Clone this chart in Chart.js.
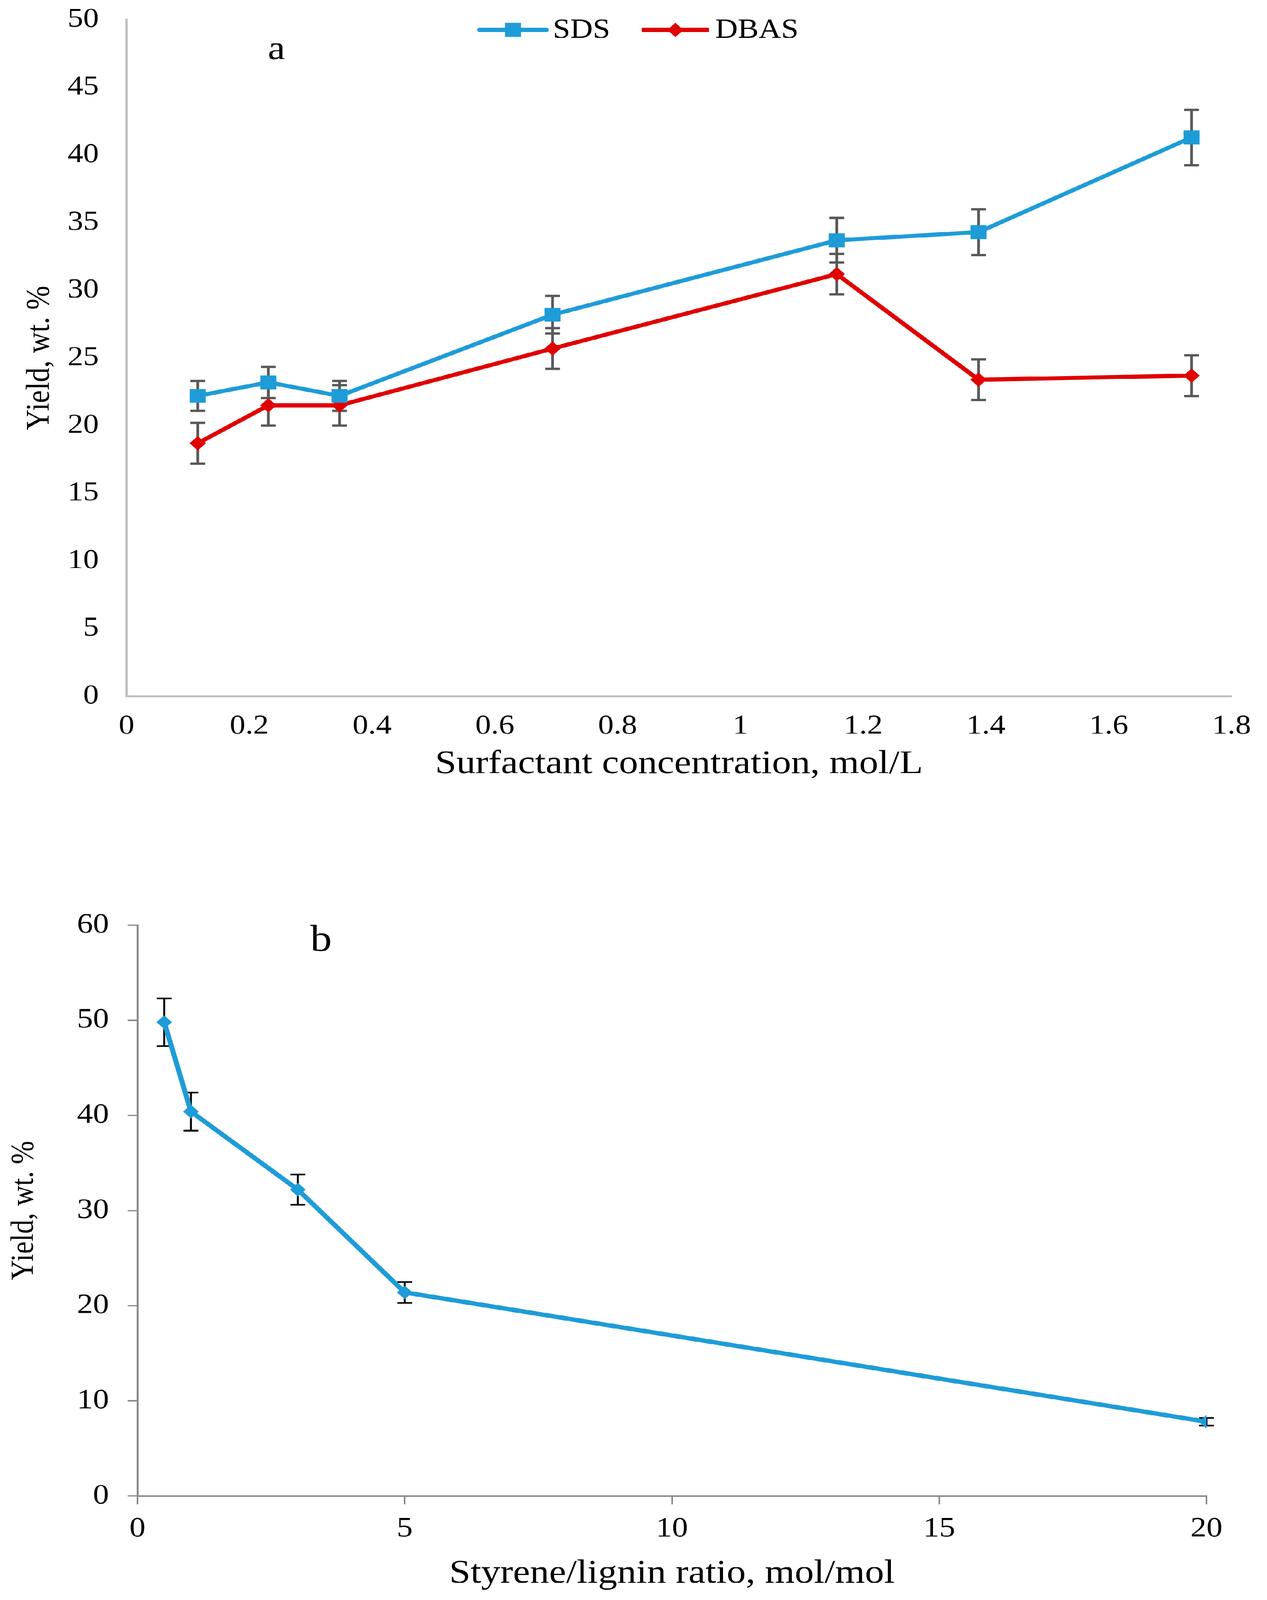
<!DOCTYPE html>
<html>
<head>
<meta charset="utf-8">
<script src="https://cdn.jsdelivr.net/npm/chart.js@4.4.1/dist/chart.umd.min.js"></script>
<style>
  html, body { margin: 0; padding: 0; background: #fff; overflow: hidden; }
  #wrap { position: relative; width: 3244px; height: 4706px; transform-origin: 0 0; }
  canvas { position: absolute; left: 0; }
  #chart-a { top: 0; }
  #chart-b { top: 2400px; }
</style>
</head>
<body>
<div id="wrap">
  <canvas id="chart-a" width="3244" height="2400"></canvas>
  <canvas id="chart-b" width="3244" height="2306"></canvas>
</div>
<script>
// --- Data (panel a) ---
const concentration = [0.116, 0.231, 0.347, 0.694, 1.157, 1.388, 1.735];
const sdsYield = [22.2, 23.2, 22.2, 28.2, 33.7, 34.3, 41.3];
const sdsError = [1.1, 1.15, 1.1, 1.4, 1.65, 1.7, 2.05];
const dbasYield = [18.7, 21.5, 21.5, 25.7, 31.2, 23.4, 23.7];
const dbasError = [1.5, 1.5, 1.5, 1.5, 1.5, 1.5, 1.5];
const concTicks = [0, 0.2, 0.4, 0.6, 0.8, 1, 1.2, 1.4, 1.6, 1.8];
const yieldTicksA = [0, 5, 10, 15, 20, 25, 30, 35, 40, 45, 50];

// --- Data (panel b) ---
const ratio = [0.5, 1, 3, 5, 20];
const ratioYield = [49.8, 40.4, 32.2, 21.4, 7.8];
const ratioError = [2.5, 2.0, 1.6, 1.1, 0.4];
const ratioTicks = [0, 5, 10, 15, 20];
const yieldTicksB = [0, 10, 20, 30, 40, 50, 60];

const FONT = '"Liberation Serif", "Times New Roman", serif';
const BLUE = '#1E9CD8';
const RED = '#E00000';

// the window can come up shorter than the figure; squeeze it to fit
const FIG_H = 4706;
const fitY = Math.min(1, window.innerHeight / FIG_H);
if (fitY < 1) document.getElementById('wrap').style.transform = `scaleY(${fitY})`;

Chart.defaults.font.family = FONT;
Chart.defaults.color = '#000';

const toPoints = (xs, ys) => xs.map((x, i) => ({ x, y: ys[i] }));
const fixedTicks = (values) => (scale) => { scale.ticks = values.map(v => ({ value: v })); };
// fixed axis width, and no extra label padding pushing the plot area in
const fixedWidth = (w) => (s) => { s.width = w; s.paddingTop = 0; s.paddingBottom = 0; };

// --- Plugins ---
const errorBarPlugin = {
    id: 'errorBars',
    beforeDatasetsDraw(chart, args, opts) {
        const { ctx, scales: { x, y } } = chart;
        ctx.save();
        ctx.strokeStyle = opts.color;
        ctx.lineWidth = opts.width;
        ctx.lineCap = 'butt';
        chart.data.datasets.forEach(ds => {
            if (!ds.errors) return;
            ds.data.forEach((pt, j) => {
                const px = x.getPixelForValue(pt.x);
                const top = y.getPixelForValue(pt.y + ds.errors[j]);
                const bot = y.getPixelForValue(pt.y - ds.errors[j]);
                ctx.beginPath();
                ctx.moveTo(px, top); ctx.lineTo(px, bot);
                ctx.moveTo(px - opts.cap, top); ctx.lineTo(px + opts.cap, top);
                ctx.moveTo(px - opts.cap, bot); ctx.lineTo(px + opts.cap, bot);
                ctx.stroke();
            });
        });
        ctx.restore();
    }
};

const seriesLegendPlugin = {
    id: 'seriesLegend',
    afterDraw(chart, args, opts) {
        if (!opts.display) return;
        const { ctx } = chart;
        ctx.save();
        ctx.font = `${opts.fontSize}px ${FONT}`;
        ctx.textBaseline = 'middle';
        const items = chart.data.datasets.map(ds => ({
            ds, w: opts.lineLength + opts.gap + ctx.measureText(ds.label).width
        }));
        const total = items.reduce((s, it) => s + it.w, 0) + opts.itemGap * (items.length - 1);
        let x = opts.centerX - total / 2;
        items.forEach(({ ds, w }) => {
            ctx.strokeStyle = ds.borderColor;
            ctx.lineWidth = ds.borderWidth;
            ctx.lineCap = ds.legendCap || 'butt';
            ctx.beginPath();
            ctx.moveTo(x, opts.y);
            ctx.lineTo(x + opts.lineLength, opts.y);
            ctx.stroke();
            ctx.fillStyle = ds.pointBackgroundColor;
            Chart.helpers.drawPoint(ctx, {
                pointStyle: ds.pointStyle, radius: ds.pointRadius, rotation: 0, borderWidth: 0
            }, x + opts.lineLength / 2, opts.y);
            ctx.fillStyle = '#000';
            ctx.fillText(ds.label, x + opts.lineLength + opts.gap, opts.y + 2);
            x += w + opts.itemGap;
        });
        ctx.restore();
    }
};

const panelLabelPlugin = {
    id: 'panelLabel',
    afterDraw(chart, args, opts) {
        const { ctx } = chart;
        ctx.save();
        ctx.font = `${opts.size}px ${FONT}`;
        ctx.fillStyle = '#000';
        ctx.textAlign = 'center';
        ctx.textBaseline = 'middle';
        ctx.fillText(opts.text, opts.x, opts.y);
        ctx.restore();
    }
};

// --- Panel a ---
new Chart(document.getElementById('chart-a'), {
    type: 'line',
    data: {
        datasets: [
            {
                label: 'SDS',
                data: toPoints(concentration, sdsYield),
                errors: sdsError,
                borderColor: BLUE,
                backgroundColor: BLUE,
                borderWidth: 12,
                legendCap: 'round',
                pointStyle: 'rect',
                pointRadius: 29,
                pointBorderWidth: 0,
                pointBackgroundColor: BLUE
            },
            {
                label: 'DBAS',
                data: toPoints(concentration, dbasYield),
                errors: dbasError,
                borderColor: RED,
                backgroundColor: RED,
                borderWidth: 12,
                pointStyle: 'rectRot',
                pointRadius: 21,
                pointBorderWidth: 0,
                pointBackgroundColor: RED
            }
        ]
    },
    options: {
        responsive: false,
        animation: false,
        devicePixelRatio: 1,
        layout: { padding: { top: 58, right: 81, left: 0, bottom: 0 } },
        elements: { line: { tension: 0 } },
        plugins: {
            legend: { display: false },
            tooltip: { enabled: false },
            errorBars: { color: '#595959', width: 7, cap: 19 },
            seriesLegend: { display: true, y: 88, centerX: 1636, fontSize: 80, lineLength: 172, gap: 16, itemGap: 81 },
            panelLabel: { text: 'a', x: 708, y: 148, size: 100 }
        },
        scales: {
            x: {
                type: 'linear',
                min: 0,
                max: 1.8,
                afterBuildTicks: fixedTicks(concTicks),
                afterFit: (s) => { s.height = 352; },
                grid: { display: false, drawTicks: false },
                border: { color: '#BFBFBF', width: 6 },
                ticks: { font: { size: 80 }, padding: 41, autoSkip: false, maxRotation: 0, callback: v => String(v) },
                title: {
                    display: true,
                    text: 'Surfactant concentration, mol/L',
                    font: { size: 98 },
                    padding: { top: 0, bottom: 93 }
                }
            },
            y: {
                min: 0,
                max: 50,
                afterBuildTicks: fixedTicks(yieldTicksA),
                afterFit: fixedWidth(324),
                grid: { display: false, drawTicks: false },
                border: { color: '#BFBFBF', width: 6 },
                ticks: { font: { size: 80 }, padding: 71, callback: v => String(v) },
                title: {
                    display: true,
                    text: 'Yield, wt. %',
                    font: { size: 85 },
                    padding: { top: 52, bottom: 0 }
                }
            }
        }
    },
    plugins: [errorBarPlugin, seriesLegendPlugin, panelLabelPlugin]
});

// --- Panel b ---
new Chart(document.getElementById('chart-b'), {
    type: 'line',
    data: {
        datasets: [
            {
                label: 'Yield',
                data: toPoints(ratio, ratioYield),
                errors: ratioError,
                borderColor: BLUE,
                backgroundColor: BLUE,
                borderWidth: 13,
                pointStyle: 'rectRot',
                pointRadius: 20,
                pointBorderWidth: 0,
                pointBackgroundColor: BLUE
            }
        ]
    },
    options: {
        responsive: false,
        animation: false,
        devicePixelRatio: 1,
        layout: { padding: { top: 321, right: 155, left: 0, bottom: 0 } },
        elements: { line: { tension: 0 } },
        plugins: {
            legend: { display: false },
            tooltip: { enabled: false },
            errorBars: { color: '#000000', width: 5, cap: 19 },
            seriesLegend: { display: false },
            panelLabel: { text: 'b', x: 822, y: 368, size: 110 }
        },
        scales: {
            x: {
                type: 'linear',
                min: 0,
                max: 20,
                afterBuildTicks: fixedTicks(ratioTicks),
                afterFit: (s) => { s.height = 306; },
                grid: { display: true, drawOnChartArea: false, drawTicks: true, tickLength: 25, color: '#898989', lineWidth: 4 },
                border: { color: '#898989', width: 5 },
                ticks: { font: { size: 82 }, padding: 23, autoSkip: false, maxRotation: 0, callback: v => String(v) },
                title: {
                    display: true,
                    text: 'Styrene/lignin ratio, mol/mol',
                    font: { size: 98 },
                    padding: { top: 0, bottom: 18 }
                }
            },
            y: {
                min: 0,
                max: 60,
                afterBuildTicks: fixedTicks(yieldTicksB),
                afterFit: fixedWidth(352),
                grid: { display: true, drawOnChartArea: false, drawTicks: true, tickLength: 25, color: '#898989', lineWidth: 4 },
                border: { color: '#898989', width: 5 },
                ticks: { font: { size: 82 }, padding: 48, callback: v => String(v) },
                title: {
                    display: true,
                    text: 'Yield, wt. %',
                    font: { size: 82 },
                    padding: { top: 13, bottom: 0 }
                }
            }
        }
    },
    plugins: [errorBarPlugin, seriesLegendPlugin, panelLabelPlugin]
});
</script>
</body>
</html>
